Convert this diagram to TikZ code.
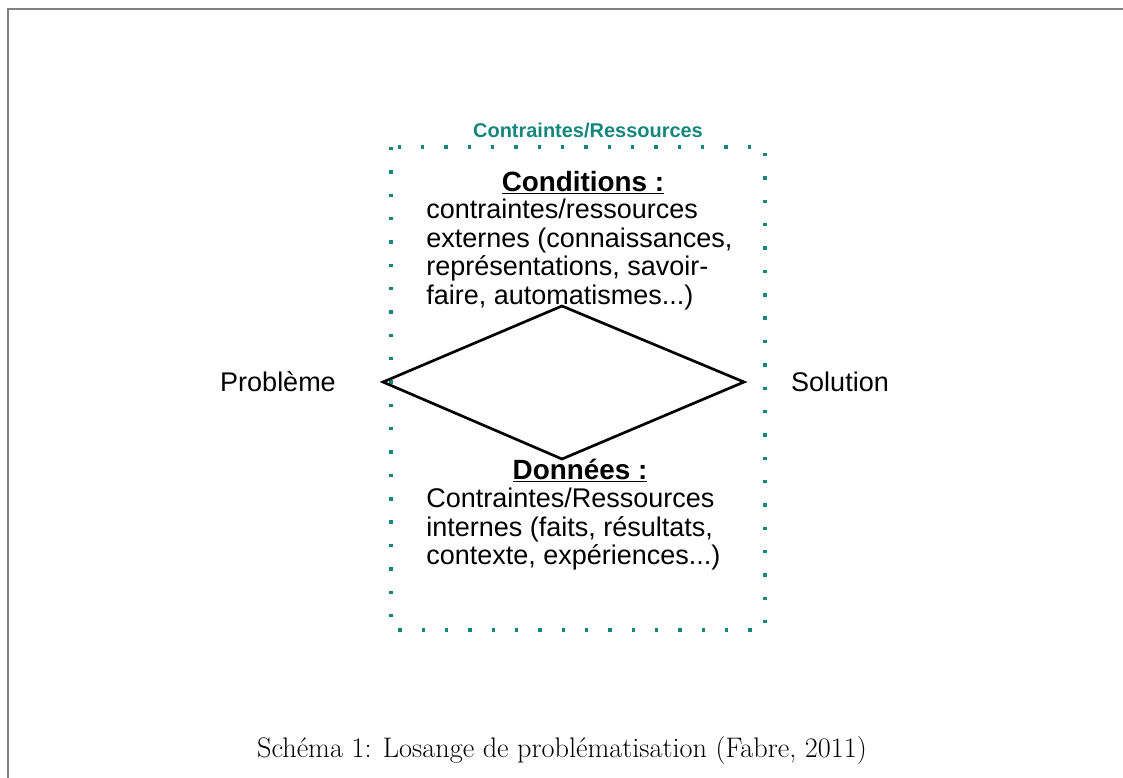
\documentclass[tikz,border=0pt]{standalone}
\usepackage{fontspec}
\setmainfont{Liberation Sans}
\newfontfamily\captionfont{Latin Modern Roman}
\usetikzlibrary{positioning}
\usetikzlibrary{calc}
\definecolor{tealdot}{RGB}{20,135,125}

\begin{document}
\begin{tikzpicture}[x=0.025cm, y=-0.025cm,
                    every node/.style={inner sep=0pt},
                    bodytext/.style={font=\fontsize{19.2}{20.3}\selectfont, align=left},
                    headtext/.style={font=\fontsize{19.8}{20.3}\selectfont\bfseries},
                    sidetext/.style={font=\fontsize{19.2}{20.3}\selectfont},
                    dotbox/.style={draw=tealdot, line width=2.4pt, dash pattern=on 2.4pt off 14.2pt},
                    losange/.style={draw, line width=1.9pt, line join=miter}]
    \useasboundingbox (0,0) rectangle (1123,777);
    % cadre de la page
    \draw[gray, line width=1.5pt] (8,790) -- (8,9) -- (1135,9);

    % boite pointillee
    \coordinate (boxnw) at (391,147);
    \coordinate (boxse) at (765,630);
    \draw[dotbox] (boxnw) rectangle (boxse);
    \node[text=tealdot, font=\fontsize{14.2}{16}\selectfont\bfseries] (titre) at (588,130) {Contraintes/Ressources};

    % losange
    \coordinate (probl) at (383,382);
    \coordinate (haut) at (562,306);
    \coordinate (sol) at (744,382);
    \coordinate (bas) at (562,459);
    \draw[losange] (probl) -- (haut) -- (sol) -- (bas) -- cycle;

    \node[sidetext] (probleme) at (278,382) {Problème};
    \node[sidetext] (solution) at (840,382) {Solution};

    % conditions
    \node[headtext, anchor=base] (cond) at (583,191) {\underline{Conditions :}};
    \node[bodytext, anchor=north west] (condtexte) at (426,199)
        {contraintes/ressources\\
         externes (connaissances,\\
         représentations, savoir-\\
         faire, automatismes...)};

    % donnees
    \node[headtext, anchor=base] (donnees) at (580,479) {\underline{Données :}};
    \node[bodytext, anchor=north west] (donneestexte) at (426,488)
        {Contraintes/Ressources\\
         internes (faits, résultats,\\
         contexte, expériences...)};

    % legende
    \node[font=\captionfont\fontsize{20.1}{22}\selectfont] (legende) at (562,750)
        {Schéma 1: Losange de problématisation (Fabre, 2011)};
\end{tikzpicture}
\end{document}
